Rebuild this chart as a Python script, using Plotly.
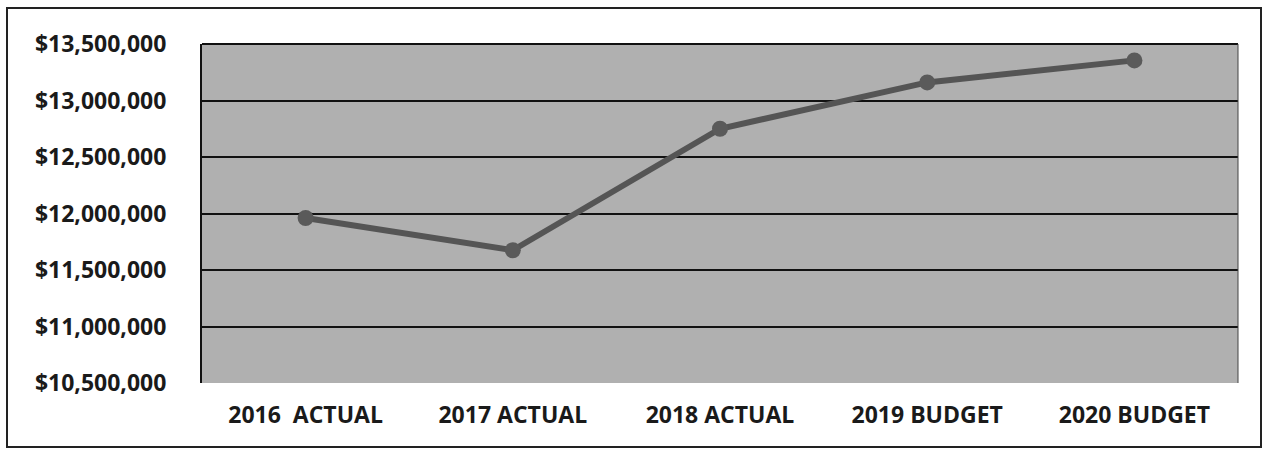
import plotly.graph_objects as go

categories = ["2016  ACTUAL", "2017 ACTUAL", "2018 ACTUAL", "2019 BUDGET", "2020 BUDGET"]
values = [11960000, 11675000, 12750000, 13160000, 13355000]
tick_vals = [10500000, 11000000, 11500000, 12000000, 12500000, 13000000, 13500000]
tick_text = ["$10,500,000", "$11,000,000", "$11,500,000", "$12,000,000",
             "$12,500,000", "$13,000,000", "$13,500,000"]

fig = go.Figure()
fig.add_trace(go.Scatter(
    x=categories, y=values, mode="lines+markers",
    line=dict(color="#555555", width=6),
    marker=dict(color="#5a5a5a", size=16),
    showlegend=False,
))

font = dict(family="Open Sans, Lato, sans-serif", size=23, color="#1a1a1a", weight="bold")

fig.update_layout(
    width=1263, height=450,
    margin=dict(l=202, r=25, t=44, b=67),
    paper_bgcolor="white",
    plot_bgcolor="#b0b0b0",
    xaxis=dict(
        type="category", range=[-0.5, 4.5],
        showgrid=False, zeroline=False, showline=False,
        ticks="", tickfont=font,
        ticklabelstandoff=16,
    ),
    yaxis=dict(
        range=[10500000, 13500000],
        tickvals=tick_vals, ticktext=tick_text,
        showgrid=True, gridcolor="#111111", gridwidth=2,
        zeroline=False, showline=True, linecolor="#111111", linewidth=2,
        ticks="", tickfont=font,
        ticklabelstandoff=29,
    ),
)

# top edge and right edge of plot area
fig.add_shape(type="line", xref="paper", yref="paper", x0=0, x1=1, y0=1, y1=1,
              line=dict(color="#111111", width=2))
fig.add_shape(type="line", xref="paper", yref="paper", x0=1, x1=1, y0=0, y1=1,
              line=dict(color="#444444", width=1))

# outer frame around the whole chart
pw = 1263 - 202 - 25
ph = 450 - 44 - 67
fig.add_shape(type="rect", xref="paper", yref="paper",
              x0=(7 - 202) / pw, x1=(1261 - 202) / pw,
              y0=(450 - 67 - 447) / ph, y1=(450 - 67 - 8) / ph,
              line=dict(color="#222222", width=2), fillcolor="rgba(0,0,0,0)",
              layer="below")

fig.write_html("out.html")
